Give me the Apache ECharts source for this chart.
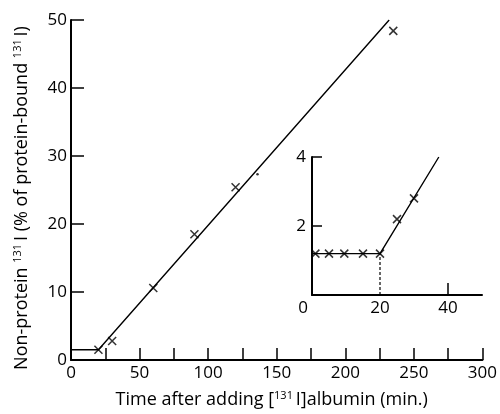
<!DOCTYPE html>
<html>
<head>
<meta charset="utf-8">
<script src="https://cdn.jsdelivr.net/npm/echarts@6/dist/echarts.min.js"></script>
<style>
html, body { margin: 0; padding: 0; background: #fff; }
#chart { width: 500px; height: 414px; }
</style>
</head>
<body>
<div id="chart"></div>
<script>
// main plot: non-protein 131I vs time after adding albumin
var mainPoints = [[20, 1.5], [30, 2.8], [60, 10.6], [90, 18.5], [120, 25.4], [235, 48.4]];
var mainDot = [[136, 27.3]];
var mainFit = [[0, 1.5], [20, 1.5], [232, 50]];
var mainXRange = [0, 300, 25];   // min, max, tick step
var mainYRange = [0, 50, 10];

// inset: first 50 min enlarged
var insetPoints = [[1, 1.2], [5, 1.2], [9.5, 1.2], [15, 1.2], [20, 1.2], [25, 2.2], [30, 2.8]];
var insetFit = [[0, 1.2], [20, 1.2], [37.3, 4]];
var insetDrop = [[20, 0], [20, 1.2]];
var insetXRange = [0, 50, 20];
var insetYRange = [0, 4, 2];
var insetXTicks = [40];

var font = 'Open Sans';
var ink = '#000';
var cross = 'path://M0,0L10,10M10,0L0,10';
var supStyle = { fontSize: 11, fontFamily: font, color: ink, verticalAlign: 'top', padding: [0, 0, 9, 0] };

var chart = echarts.init(document.getElementById('chart'));

var option = {
    backgroundColor: '#fff',
    animation: false,
    textStyle: { fontFamily: font, color: ink },
    grid: [
        { left: 71, right: 17, top: 20, bottom: 51 },
        { left: 312, right: 18, top: 157, bottom: 119 }
    ],
    xAxis: [
        {
            gridIndex: 0,
            type: 'value',
            min: mainXRange[0], max: mainXRange[1], interval: mainXRange[2],
            splitLine: { show: false },
            axisLine: { lineStyle: { color: ink, width: 2 } },
            axisTick: { inside: true, length: 12, lineStyle: { color: ink, width: 1.5 } },
            axisLabel: {
                fontSize: 17, color: ink, fontFamily: font, fontWeight: 500, margin: 5,
                formatter: function (v) { return v % 50 === 0 ? String(v) : ''; }
            },
            name: 'Time after adding [{sup|131 }I]albumin (min.)',
            nameLocation: 'middle',
            nameGap: 30,
            nameTextStyle: { fontSize: 18, color: ink, fontFamily: font, fontWeight: 500, padding: [0, 10, 0, 0], rich: { sup: supStyle } }
        },
        {
            gridIndex: 1,
            type: 'value',
            min: insetXRange[0], max: insetXRange[1], interval: insetXRange[2],
            splitLine: { show: false },
            axisLine: { lineStyle: { color: ink, width: 2 } },
            axisTick: { inside: true, length: 12, customValues: insetXTicks, lineStyle: { color: ink, width: 1.5 } },
            axisLabel: {
                fontSize: 17, color: ink, fontFamily: font, fontWeight: 500, margin: 5, showMaxLabel: false,
                formatter: function (v) { return v === 0 ? '{z|0}' : String(v); },
                rich: { z: { fontSize: 17, fontFamily: font, fontWeight: 500, color: ink, padding: [0, 18, 0, 0] } }
            }
        }
    ],
    yAxis: [
        {
            gridIndex: 0,
            type: 'value',
            min: mainYRange[0], max: mainYRange[1], interval: mainYRange[2],
            splitLine: { show: false },
            axisLine: { lineStyle: { color: ink, width: 2 } },
            axisTick: { inside: true, length: 13, lineStyle: { color: ink, width: 1.5 } },
            axisLabel: { fontSize: 17, color: ink, fontFamily: font, fontWeight: 500, margin: 4 },
            name: 'Non-protein {sup|131 }I (% of protein-bound {sup|131 }I)',
            nameLocation: 'middle',
            nameGap: 39,
            nameTextStyle: { fontSize: 18, color: ink, fontFamily: font, fontWeight: 500, padding: [0, 16, 0, 0], rich: { sup: supStyle } }
        },
        {
            gridIndex: 1,
            type: 'value',
            min: insetYRange[0], max: insetYRange[1], interval: insetYRange[2],
            splitLine: { show: false },
            axisLine: { lineStyle: { color: ink, width: 2 } },
            axisTick: { inside: true, length: 10, lineStyle: { color: ink, width: 1.5 } },
            axisLabel: { fontSize: 17, color: ink, fontFamily: font, fontWeight: 500, margin: 6, showMinLabel: false }
        }
    ],
    series: [
        {
            type: 'line', xAxisIndex: 0, yAxisIndex: 0,
            data: mainFit, symbol: 'none',
            lineStyle: { color: ink, width: 1.4 }
        },
        {
            type: 'scatter', xAxisIndex: 0, yAxisIndex: 0,
            data: mainPoints, symbol: cross, symbolSize: 8,
            itemStyle: { color: 'transparent', borderColor: ink, borderWidth: 1.5 }
        },
        {
            type: 'scatter', xAxisIndex: 0, yAxisIndex: 0,
            data: mainDot, symbol: 'circle', symbolSize: 2.5,
            itemStyle: { color: ink }
        },
        {
            type: 'line', xAxisIndex: 1, yAxisIndex: 1,
            data: insetFit, symbol: 'none',
            lineStyle: { color: ink, width: 1.4 }
        },
        {
            type: 'line', xAxisIndex: 1, yAxisIndex: 1,
            data: insetDrop, symbol: 'none',
            lineStyle: { color: ink, width: 1.2, type: [3, 2] }
        },
        {
            type: 'scatter', xAxisIndex: 1, yAxisIndex: 1,
            data: insetPoints, symbol: cross, symbolSize: 8,
            itemStyle: { color: 'transparent', borderColor: ink, borderWidth: 1.5 }
        }
    ]
};

chart.setOption(option);
</script>
</body>
</html>
